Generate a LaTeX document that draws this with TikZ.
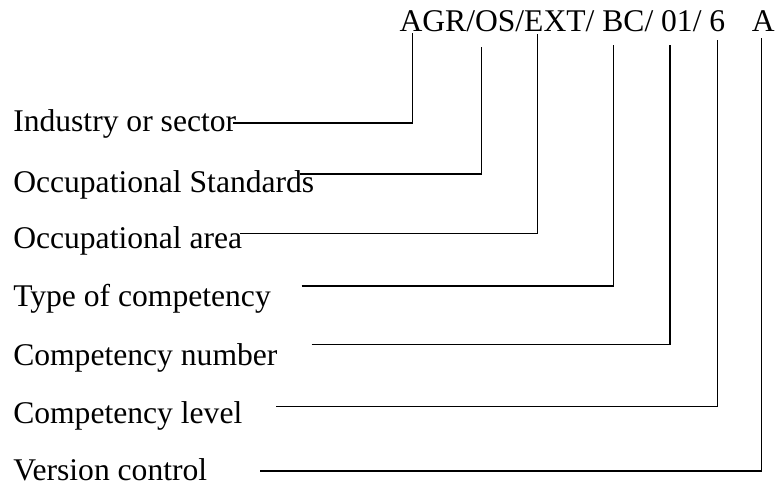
\documentclass[tikz,border=0pt]{standalone}
\usepackage{fontspec}
\setmainfont{Liberation Serif}
\usepackage{tikz}

\begin{document}
\begin{tikzpicture} [x = 0.75pt, y = -0.75pt, every node/.style = {inner sep = 0pt, anchor = base west, font = \fontsize{23.7}{28}\selectfont}]
                \useasboundingbox (0,0) rectangle (778,489);
                \node (code) at (399.3,31.5) {AGR/OS/EXT/ BC/ 01/ 6};
                \node (ver) at (751.7,31.5) {A};
                \foreach \i/\txt/\yb/\xa/\yl/\xb/\yt in {1/Industry or sector/131.7/233/123/412.7/33,
                    2/Occupational Standards/192/300/174/481.7/46.7,
                    3/Occupational area/248/240/233.5/537.5/33.5,
                    4/Type of competency/306/301.7/286/613.5/45,
                    5/Competency number/365/311.7/344.3/670/45,
                    6/Competency level/423/276/406.7/717.7/40,
                    7/Version control/480/260/471/761.7/38.3}
                  {
                    \node (lab\i) at (13,\yb) {\txt};
                    \coordinate (s\i) at (\xa,\yl);
                    \coordinate (t\i) at (\xb,\yt);
                    \draw [line width = 1pt] (s\i) -| (t\i);
                  }
            \end{tikzpicture}
\end{document}
